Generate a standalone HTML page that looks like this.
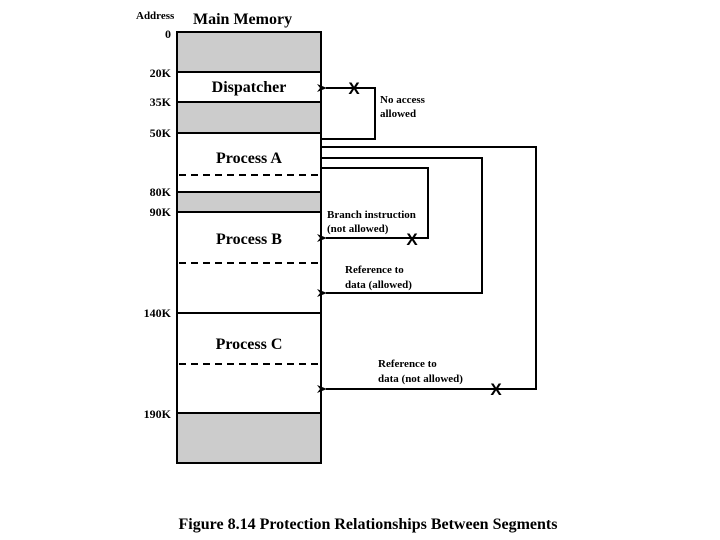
<!DOCTYPE html>
<html><head><meta charset="utf-8"><style>
html,body{margin:0;padding:0;background:#fff;width:720px;height:540px;overflow:hidden}
text{font-family:"Liberation Serif",serif;font-weight:bold;fill:#000}
</style></head><body>
<svg width="720" height="540" viewBox="0 0 720 540" xmlns="http://www.w3.org/2000/svg">
<defs><marker id="ah" markerWidth="10" markerHeight="8" refX="1" refY="4" orient="auto" markerUnits="userSpaceOnUse">
<path d="M10,0 L0,4 L10,8 L7,4 Z" fill="#000"/></marker></defs>
<!-- shaded regions -->
<rect x="177" y="32" width="144" height="40" fill="#cccccc"/>
<rect x="177" y="102" width="144" height="31" fill="#cccccc"/>
<rect x="177" y="192" width="144" height="20" fill="#cccccc"/>
<rect x="177" y="413" width="144" height="50" fill="#cccccc"/>
<rect x="177" y="32" width="144" height="431" fill="none" stroke="#000" stroke-width="2"/>
<g stroke="#000" stroke-width="2">
<line x1="177" y1="72" x2="321" y2="72"/>
<line x1="177" y1="102" x2="321" y2="102"/>
<line x1="177" y1="133" x2="321" y2="133"/>
<line x1="177" y1="192" x2="321" y2="192"/>
<line x1="177" y1="212" x2="321" y2="212"/>
<line x1="177" y1="313" x2="321" y2="313"/>
<line x1="177" y1="413" x2="321" y2="413"/>
</g>
<g stroke="#000" stroke-width="2" stroke-dasharray="7,5">
<line x1="179" y1="175" x2="318" y2="175"/>
<line x1="179" y1="263" x2="318" y2="263"/>
<line x1="179" y1="364" x2="318" y2="364"/>
</g>
<!-- connectors -->
<g fill="none" stroke="#000" stroke-width="2">
<polyline points="322,139 375,139 375,88 326,88" marker-end="url(#ah)"/>
<polyline points="322,147 536,147 536,389 326,389" marker-end="url(#ah)"/>
<polyline points="322,158 482,158 482,293 326,293" marker-end="url(#ah)"/>
<polyline points="322,168 428,168 428,238 326,238" marker-end="url(#ah)"/>
</g>
<g font-family="Liberation Sans, sans-serif" font-weight="bold" font-size="17">
<text x="354" y="94" text-anchor="middle" style="font-family:'Liberation Sans',sans-serif">X</text>
<text x="412" y="245" text-anchor="middle" style="font-family:'Liberation Sans',sans-serif">X</text>
<text x="496" y="395" text-anchor="middle" style="font-family:'Liberation Sans',sans-serif">X</text>
</g>
<!-- labels -->
<text x="136" y="19" font-size="11">Address</text>
<text x="193" y="24" font-size="16">Main Memory</text>
<text x="171" y="38" font-size="12" text-anchor="end">0</text>
<text x="171" y="77" font-size="12" text-anchor="end">20K</text>
<text x="171" y="106" font-size="12" text-anchor="end">35K</text>
<text x="171" y="137" font-size="12" text-anchor="end">50K</text>
<text x="171" y="196" font-size="12" text-anchor="end">80K</text>
<text x="171" y="216" font-size="12" text-anchor="end">90K</text>
<text x="171" y="317" font-size="12" text-anchor="end">140K</text>
<text x="171" y="418" font-size="12" text-anchor="end">190K</text>
<text x="249" y="92" font-size="16" text-anchor="middle">Dispatcher</text>
<text x="249" y="163" font-size="16" text-anchor="middle">Process A</text>
<text x="249" y="244" font-size="16" text-anchor="middle">Process B</text>
<text x="249" y="349" font-size="16" text-anchor="middle">Process C</text>
<text x="380" y="103" font-size="11">No access</text>
<text x="380" y="117" font-size="11">allowed</text>
<text x="327" y="218" font-size="11">Branch instruction</text>
<text x="327" y="232" font-size="11">(not allowed)</text>
<text x="345" y="273" font-size="11">Reference to</text>
<text x="345" y="288" font-size="11">data (allowed)</text>
<text x="378" y="367" font-size="11">Reference to</text>
<text x="378" y="382" font-size="11">data (not allowed)</text>
<text x="368" y="529" font-size="16" text-anchor="middle">Figure 8.14  Protection Relationships Between Segments</text>
</svg>
</body></html>
